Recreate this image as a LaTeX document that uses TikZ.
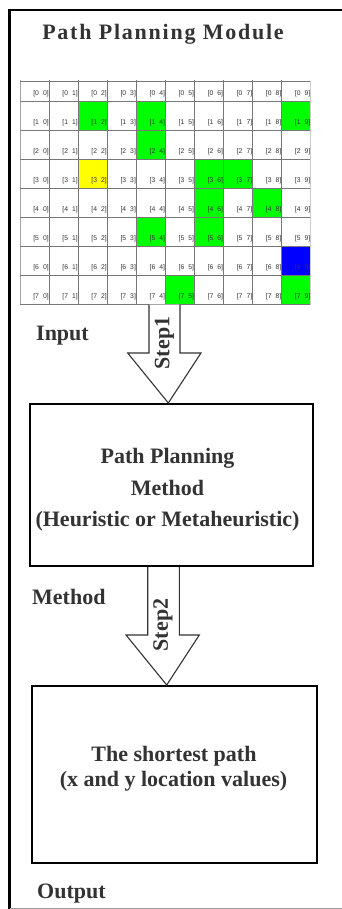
\documentclass[tikz,border=0pt]{standalone}
\usepackage{fontspec}
\setmainfont{Liberation Serif}
\newfontfamily\gridfont{Liberation Sans}
\definecolor{ink}{HTML}{333333}
\definecolor{gridgrey}{HTML}{777777}
\definecolor{cellgreen}{HTML}{00FF00}
\definecolor{cellyellow}{HTML}{FFFF00}
\definecolor{cellblue}{HTML}{0000FF}
\tikzset{
  frameline/.style={line width=2.4pt, black},
  gridline/.style={line width=0.9pt, gridgrey},
  cellnum/.style={font=\gridfont\fontsize{6.8}{7}\selectfont, text=ink, inner sep=0pt, anchor=east},
  heading/.style={font=\bfseries\fontsize{22}{26}\selectfont, text=ink, inner sep=0pt},
  stagebox/.style={draw=black, line width=2.4pt, inner sep=0pt},
  blockarrow/.style={draw=ink, line width=1.1pt, fill=white, line join=miter},
  steptext/.style={font=\bfseries\fontsize{22}{26}\selectfont, text=ink, inner sep=0pt, rotate=90}
}
\begin{document}
\begin{tikzpicture}[x=1pt, y=-1pt]
\useasboundingbox (0,0) rectangle (342,909);
\fill[white] (0,0) rectangle (342,909);

% outer frame of the module (open on the right)
\draw[frameline] (342,10) -- (9.5,10) -- (9.5,909);
\draw[line width=1pt, gray!80] (9.5,908) -- (342,908);

% title
\node[heading, anchor=base] (title) at (163,39.3)
  {\addfontfeature{LetterSpace=8}Path Planning Module};

% occupancy grid, 8 rows x 10 columns (cropped at top and right)
\node[inner sep=0pt, minimum width=290.7pt, minimum height=223.5pt] (grid) at (165.65,192.75) {};
\begin{scope}
  \clip (20.3,81) rectangle (310.2,304.5);
  \foreach \r/\c/\col in {1/2/cellgreen, 1/4/cellgreen, 2/4/cellgreen, 1/9/cellgreen,
      3/2/cellyellow, 3/6/cellgreen, 3/7/cellgreen, 4/6/cellgreen, 4/8/cellgreen,
      5/4/cellgreen, 5/6/cellgreen, 6/9/cellblue, 7/5/cellgreen, 7/9/cellgreen}
    \fill[\col] (20.3+29.07*\c, 72+29*\r) rectangle ++(29.07,29);
  \foreach \c in {0,...,10}
    \draw[gridline] (20.3+29.07*\c,72) -- ++(0,232.5);
  \foreach \r in {0,...,8}
    \draw[gridline] (20.3, 72+29*\r) -- ++(290.7,0);
  \foreach \r in {0,...,7}
    \foreach \c in {0,...,9}
      \node[cellnum] (n\r\c) at (20.3+29.07*\c+28.6, 72+29*\r+21.3)
        {[\r\hspace{4pt}\c]};
\end{scope}
\draw[line width=0.6pt, gray!40] (310.2,81) -- (310.2,304.5);
\draw[gridline] (20.3,81) -- (310.2,81);

\node[heading, anchor=base west] (input) at (36,340) {Input};

% first stage box
\node[stagebox, minimum width=283pt, minimum height=162pt] (method) at (171.5,485) {};
\node[heading, anchor=base] (m1) at (167.5,463.3) {Path Planning};
\node[heading, anchor=base] (m2) at (167.5,495) {Method};
\node[heading, anchor=base] (m3) at (167.5,526.5) {(Heuristic or Metaheuristic)};

% step 1: block arrow from the grid to the method box
\draw[blockarrow] (149,304.5) -- (149,353) -- (127.7,353) -- (168.3,403)
  -- (201,353) -- (180,353) -- (180,304.5);
\node[steptext] (step1) at (164.5,343) {Step1};

\node[heading, anchor=base west] (methodlbl) at (32,604) {Method};

% second stage box
\node[stagebox, minimum width=285pt, minimum height=177pt] (result) at (174.2,774.5) {};
\node[heading, anchor=base] (o1) at (174,761.7) {The shortest path};
\node[heading, anchor=base] (o2) at (173.5,786) {(x and y location values)};

% step 2: block arrow from the method box to the result box
\draw[blockarrow] (147.7,567) -- (147.7,635) -- (126,635) -- (166.7,685)
  -- (199.3,635) -- (179.3,635) -- (179.3,567);
\node[steptext] (step2) at (163,625) {Step2};

\node[heading, anchor=base west] (output) at (37,898.3) {Output};
\end{tikzpicture}
\end{document}
